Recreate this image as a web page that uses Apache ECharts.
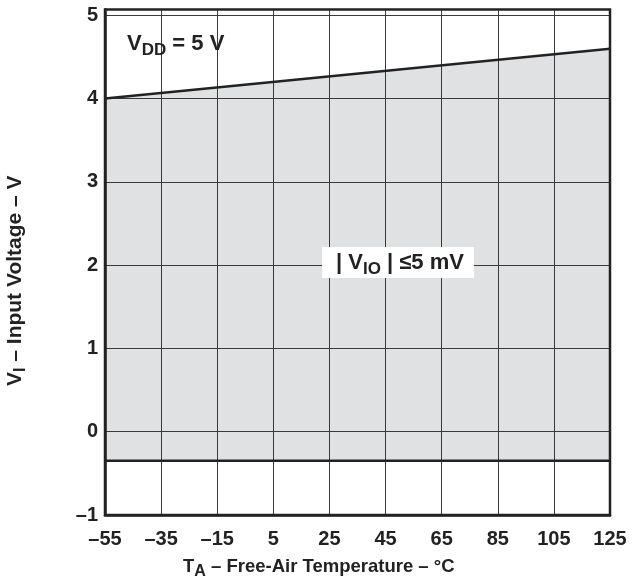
<!DOCTYPE html>
<html>
<head>
<meta charset="utf-8">
<script src="https://cdn.jsdelivr.net/npm/echarts@6/dist/echarts.min.js"></script>
<style>
  html, body { margin: 0; padding: 0; background: #fff; }
  #chart { width: 633px; height: 582px; }
</style>
</head>
<body>
<div id="chart"></div>
<script>
// Free-air temperature ticks (°C)
const temps = ['–55', '–35', '–15', '5', '25', '45', '65', '85', '105', '125'];
// Upper limit of the common-mode input range at VDD = 5 V (straight line between ends)
const upperTemp = ['–55', '125'];
const upperVolt = [4.0, 4.6];
// Lower limit of the input range
const lowerTemp = ['–55', '125'];
const lowerVolt = [-0.35, -0.35];
// Voltage axis range
const vMin = -1, vMax = 5.07, vStep = 1;

const FONT = '"Liberation Sans", Arial, sans-serif';
const INK = '#222';

const upperData = upperTemp.map((t, i) => [t, upperVolt[i]]);
const lowerData = lowerTemp.map((t, i) => [t, lowerVolt[i]]);

// rich-text styles: main text plus a lowered subscript
function richStyles(size, subSize, drop, lh) {
  return {
    m: { fontFamily: FONT, fontWeight: 'bold', fontSize: size, fill: INK, verticalAlign: 'top', lineHeight: lh },
    s: { fontFamily: FONT, fontWeight: 'bold', fontSize: subSize, fill: INK, verticalAlign: 'top', padding: [drop, 0, 0, 0], lineHeight: lh }
  };
}

const chart = echarts.init(document.getElementById('chart'));
chart.setOption({
  backgroundColor: '#fff',
  animation: false,
  grid: {
    left: 105, right: 23, top: 9.5, bottom: 67,
    show: true, borderColor: INK, borderWidth: 2.5,
    backgroundColor: 'transparent', z: 8
  },
  xAxis: {
    type: 'category',
    data: temps,
    boundaryGap: false,
    z: 5,
    axisLine: { show: true, onZero: false, lineStyle: { color: INK, width: 2.5 } },
    axisTick: { show: false },
    axisLabel: { color: INK, fontFamily: FONT, fontWeight: 'bold', fontSize: 20, margin: 14 },
    splitLine: { show: true, lineStyle: { color: '#3a3a3a', width: 1 } }
  },
  yAxis: {
    type: 'value',
    min: vMin, max: vMax, interval: vStep,
    z: 5,
    axisLine: { show: true, onZero: false, lineStyle: { color: INK, width: 2.5 } },
    axisTick: { show: false },
    axisLabel: {
      color: INK, fontFamily: FONT, fontWeight: 'bold', fontSize: 20, margin: 7,
      formatter: v => Number.isInteger(v) ? String(v).replace('-', '–') : ''
    },
    splitLine: { show: true, lineStyle: { color: '#3a3a3a', width: 1 } }
  },
  series: [
    {
      // shaded region between the lower and upper limits
      type: 'line', data: upperData, symbol: 'none', z: 1,
      lineStyle: { width: 0 },
      areaStyle: { color: '#e0e1e3', opacity: 1, origin: lowerVolt[0] }
    },
    {
      type: 'line', data: upperData, symbol: 'none', z: 10,
      lineStyle: { color: INK, width: 2.5 }
    },
    {
      type: 'line', data: lowerData, symbol: 'none', z: 10,
      lineStyle: { color: INK, width: 2.5 }
    }
  ],
  graphic: [
    {
      type: 'text', left: 127, top: 33, z: 20,
      style: { text: '{m|V}{s|DD}{m| = 5 V}', rich: richStyles(22, 17, 9, 28) }
    },
    {
      type: 'rect', z: 15,
      shape: { x: 322, y: 247, width: 152, height: 31 },
      style: { fill: '#fff' }
    },
    {
      type: 'text', left: 336, top: 252, z: 20,
      style: { text: '{m|| V}{s|IO}{m| | ≤5 mV}', rich: richStyles(22, 17, 9, 28) }
    },
    {
      type: 'text', left: 183, top: 557, z: 20,
      style: { text: '{m|T}{s|A}{m| – Free-Air Temperature – °C}', rich: richStyles(18.5, 16, 7, 24) }
    },
    {
      type: 'text', z: 20,
      x: 5, y: 386, rotation: Math.PI / 2,
      style: { text: '{m|V}{s|I}{m| – Input Voltage – V}', rich: richStyles(21, 16, 8, 25) }
    }
  ]
});
</script>
</body>
</html>
